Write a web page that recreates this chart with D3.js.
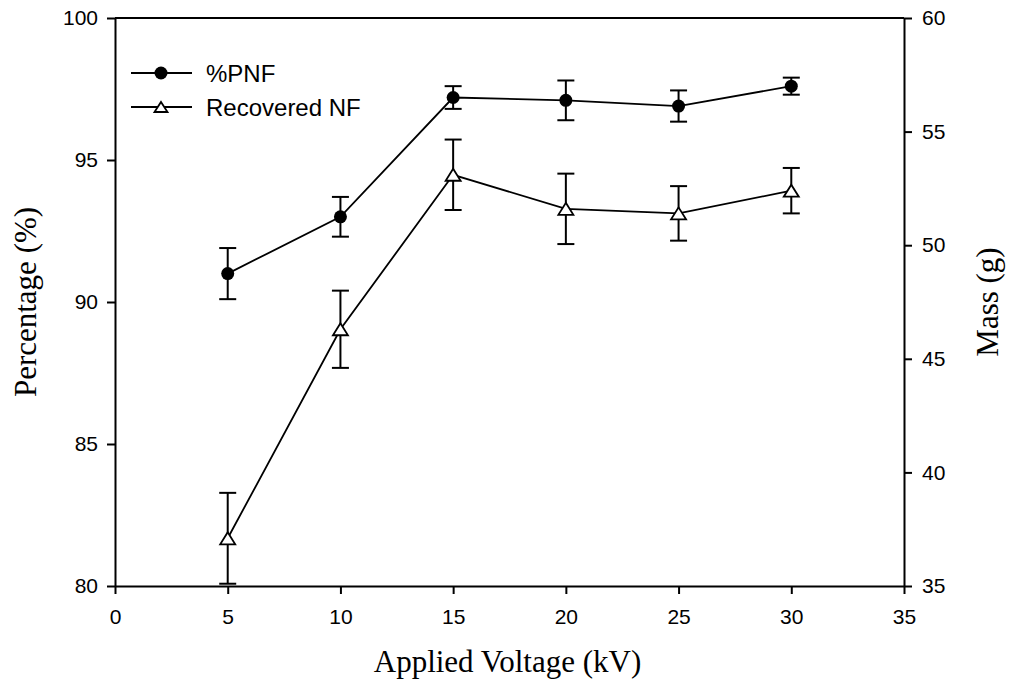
<!DOCTYPE html>
<html lang="en">
<head>
<meta charset="utf-8">
<script src="https://d3js.org/d3.v7.min.js"></script>
<style>
  body { margin: 0; background: #fff; }
  .tick text { font-family: "Liberation Sans", Arial, sans-serif; font-size: 21px; fill: #000; }
  .tick line, .domain { stroke: #000; stroke-width: 2px; }
  .title { font-family: "Liberation Serif", "Times New Roman", serif; font-size: 31px; fill: #000; }
  .legend text { font-family: "Liberation Sans", Arial, sans-serif; font-size: 24px; fill: #000; }
</style>
</head>
<body>
<svg width="1009" height="681"></svg>
<script>
// values
var voltage = [5, 10, 15, 20, 25, 30];
var pnf = [91.0, 93.0, 97.2, 97.1, 96.9, 97.6];          // %PNF, left axis
var pnfErr = [0.9, 0.7, 0.4, 0.7, 0.55, 0.3];
var recovered = [37.1, 46.3, 53.1, 51.6, 51.4, 52.4];   // Recovered NF (g), right axis
var recoveredErr = [2.0, 1.7, 1.55, 1.55, 1.2, 1.0];

var xTicks = [0, 5, 10, 15, 20, 25, 30, 35];
var leftTicks = [80, 85, 90, 95, 100];
var rightTicks = [35, 40, 45, 50, 55, 60];

var plotLeft = 115, plotRight = 904, plotTop = 18, plotBottom = 586;

var svg = d3.select("svg");

var x = d3.scaleLinear().domain([0, 35]).range([plotLeft, plotRight]);
var yL = d3.scaleLinear().domain([80, 100]).range([plotBottom, plotTop]);
var yR = d3.scaleLinear().domain([35, 60]).range([plotBottom, plotTop]);

// top border
svg.append("line")
  .attr("x1", x(0)).attr("x2", x(35))
  .attr("y1", yL(100)).attr("y2", yL(100))
  .attr("stroke", "#000").attr("stroke-width", 2);

svg.append("g")
  .attr("transform", "translate(0," + plotBottom + ")")
  .call(d3.axisBottom(x).tickValues(xTicks).tickSize(8).tickSizeOuter(0).tickPadding(15));

svg.append("g")
  .attr("transform", "translate(" + plotLeft + ",0)")
  .call(d3.axisLeft(yL).tickValues(leftTicks).tickSize(8).tickSizeOuter(0).tickPadding(9));

svg.append("g")
  .attr("transform", "translate(" + plotRight + ",0)")
  .call(d3.axisRight(yR).tickValues(rightTicks).tickSize(8).tickSizeOuter(0).tickPadding(10));

svg.selectAll(".tick text").attr("fill", "#000");

// titles
svg.append("text").attr("class", "title")
  .attr("x", (plotLeft + plotRight) / 2 - 2).attr("y", 672)
  .attr("text-anchor", "middle")
  .text("Applied Voltage (kV)");

svg.append("text").attr("class", "title")
  .attr("transform", "translate(36," + (plotTop + plotBottom) / 2 + ") rotate(-90)")
  .attr("text-anchor", "middle")
  .text("Percentage (%)");

svg.append("text").attr("class", "title")
  .attr("transform", "translate(998," + (plotTop + plotBottom) / 2 + ") rotate(-90)")
  .attr("text-anchor", "middle")
  .text("Mass (g)");

var pnfData = voltage.map(function(v, i) { return {x: v, y: pnf[i], e: pnfErr[i]}; });
var recData = voltage.map(function(v, i) { return {x: v, y: recovered[i], e: recoveredErr[i]}; });

function drawSeries(data, yScale) {
  var g = svg.append("g");
  var line = d3.line()
    .x(function(d) { return x(d.x); })
    .y(function(d) { return yScale(d.y); });
  g.append("path")
    .datum(data)
    .attr("d", line)
    .attr("fill", "none")
    .attr("stroke", "#000")
    .attr("stroke-width", 1.8);

  var eb = g.selectAll(".err").data(data).enter().append("g").attr("class", "err")
    .attr("stroke", "#000").attr("stroke-width", 2);
  eb.append("line")
    .attr("x1", function(d) { return x(d.x); })
    .attr("x2", function(d) { return x(d.x); })
    .attr("y1", function(d) { return yScale(d.y + d.e); })
    .attr("y2", function(d) { return yScale(d.y - d.e); });
  eb.append("line")
    .attr("x1", function(d) { return x(d.x) - 8.5; })
    .attr("x2", function(d) { return x(d.x) + 8.5; })
    .attr("y1", function(d) { return yScale(d.y + d.e); })
    .attr("y2", function(d) { return yScale(d.y + d.e); });
  eb.append("line")
    .attr("x1", function(d) { return x(d.x) - 8.5; })
    .attr("x2", function(d) { return x(d.x) + 8.5; })
    .attr("y1", function(d) { return yScale(d.y - d.e); })
    .attr("y2", function(d) { return yScale(d.y - d.e); });
  return g;
}

function triangle(cx, cy, w, h) {
  return "M" + cx + "," + (cy - h / 2) +
    "L" + (cx + w / 2) + "," + (cy + h / 2) +
    "L" + (cx - w / 2) + "," + (cy + h / 2) + "Z";
}

var gRec = drawSeries(recData, yR);
gRec.selectAll(".tri").data(recData).enter().append("path")
  .attr("d", function(d) { return triangle(x(d.x), yR(d.y), 15, 12); })
  .attr("fill", "#fff").attr("stroke", "#000").attr("stroke-width", 1.8);

var gPnf = drawSeries(pnfData, yL);
gPnf.selectAll(".dot").data(pnfData).enter().append("circle")
  .attr("cx", function(d) { return x(d.x); })
  .attr("cy", function(d) { return yL(d.y); })
  .attr("r", 6.5)
  .attr("fill", "#000");

// legend
var legend = svg.append("g").attr("class", "legend");
var legendItems = ["%PNF", "Recovered NF"];
var legendY = [73, 107];
legendItems.forEach(function(name, i) {
  legend.append("line")
    .attr("x1", 131).attr("x2", 192)
    .attr("y1", legendY[i]).attr("y2", legendY[i])
    .attr("stroke", "#000").attr("stroke-width", 1.8);
  if (i === 0) {
    legend.append("circle").attr("cx", 161).attr("cy", legendY[i]).attr("r", 6.5).attr("fill", "#000");
  } else {
    legend.append("path").attr("d", triangle(161, legendY[i], 13, 10))
      .attr("fill", "#fff").attr("stroke", "#000").attr("stroke-width", 1.8);
  }
  legend.append("text")
    .attr("x", 206).attr("y", legendY[i])
    .attr("dy", "0.36em")
    .text(name);
});
</script>
</body>
</html>
